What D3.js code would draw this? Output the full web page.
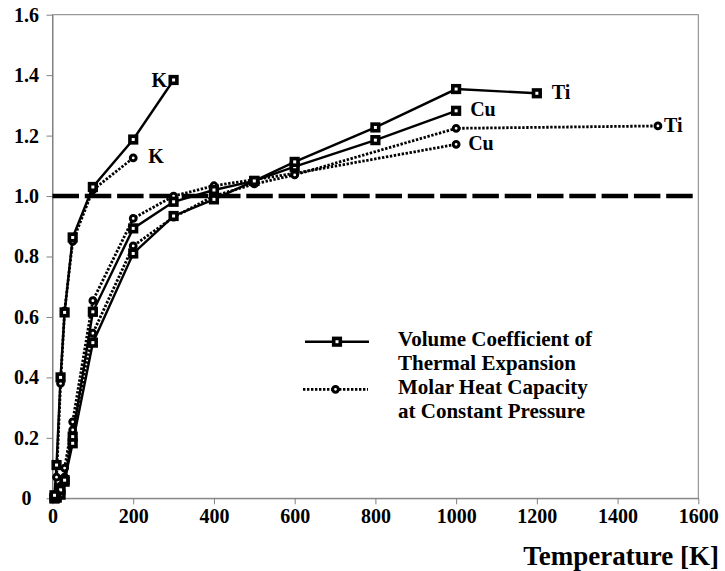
<!DOCTYPE html>
<html>
<head>
<meta charset="utf-8">
<script src="https://cdn.jsdelivr.net/npm/d3@7/dist/d3.min.js"></script>
<style>
  html, body { margin: 0; padding: 0; background: #fff; }
  svg { display: block; }
  text { font-family: "Liberation Serif", "Times New Roman", serif; font-weight: bold; fill: #000; }
</style>
</head>
<body>
<svg id="chart" width="725" height="571"></svg>
<script>
// ---------------- DATA ----------------
const xTicks = [0, 200, 400, 600, 800, 1000, 1200, 1400, 1600];
const yTicks = [0, 0.2, 0.4, 0.6, 0.8, 1.0, 1.2, 1.4, 1.6];
const referenceValue = 1.0;

const kExpT   = [5, 10, 20, 30, 50, 100, 200, 300];
const kExpV   = [0.01, 0.11, 0.40, 0.615, 0.863, 1.03, 1.187, 1.384];
const kCpT    = [5, 10, 20, 30, 50, 100, 200];
const kCpV    = [0.005, 0.07, 0.38, 0.62, 0.85, 1.02, 1.126];

const cuExpT  = [5, 10, 20, 30, 50, 100, 200, 300, 400, 500, 600, 800, 1000];
const cuExpV  = [0.0, 0.003, 0.012, 0.055, 0.204, 0.617, 0.893, 0.981, 1.02, 1.05, 1.097, 1.185, 1.282];
const tiExpT  = [5, 10, 20, 30, 50, 100, 200, 300, 400, 500, 600, 800, 1000, 1200];
const tiExpV  = [0.0, 0.003, 0.028, 0.06, 0.182, 0.515, 0.81, 0.934, 0.989, 1.05, 1.113, 1.227, 1.354, 1.34];

const cuCpT   = [5, 10, 20, 30, 50, 100, 200, 300, 400, 600, 1000];
const cuCpV   = [0.0, 0.005, 0.04, 0.10, 0.253, 0.654, 0.926, 1.0, 1.034, 1.075, 1.171];
const tiCpT   = [5, 10, 20, 30, 50, 100, 200, 300, 400, 500, 600, 1000, 1500];
const tiCpV   = [0.0, 0.003, 0.02, 0.07, 0.226, 0.546, 0.835, 0.93, 1.0, 1.04, 1.07, 1.224, 1.232];

const seriesNames = ["K", "K", "Cu", "Ti", "Cu", "Ti"];
const legendLabels = [["Volume Coefficient of", "Thermal Expansion"], ["Molar Heat Capacity", "at Constant Pressure"]];
const xTitle = "Temperature [K]";

// ---------------- BUILD ----------------
const zip = (t, v) => t.map((d, i) => ({ x: d, y: v[i] }));
const series = [
  { name: seriesNames[0], kind: "exp", pts: zip(kExpT, kExpV),  dx: -22, dy: 7 },
  { name: seriesNames[1], kind: "cp",  pts: zip(kCpT, kCpV),    dx: 15,  dy: 5.5 },
  { name: seriesNames[2], kind: "exp", pts: zip(cuExpT, cuExpV), dx: 14, dy: 5.5 },
  { name: seriesNames[3], kind: "exp", pts: zip(tiExpT, tiExpV), dx: 15, dy: 5.5 },
  { name: seriesNames[4], kind: "cp",  pts: zip(cuCpT, cuCpV),  dx: 12,  dy: 6 },
  { name: seriesNames[5], kind: "cp",  pts: zip(tiCpT, tiCpV),  dx: 6,   dy: 6 }
];

const svg = d3.select("#chart");
const plotL = 52.5, plotR = 698.3, plotT = 14.7, plotB = 498.3;
const x = d3.scaleLinear().domain([0, 1600]).range([plotL, plotR]);
const y = d3.scaleLinear().domain([0, 1.6]).range([plotB, plotT]);
const axisColor = "#808080";
const serif = "'Liberation Serif', 'Times New Roman', serif";

// frame
svg.append("rect")
  .attr("x", plotL).attr("y", plotT)
  .attr("width", plotR - plotL).attr("height", plotB - plotT)
  .attr("fill", "none").attr("stroke", axisColor).attr("stroke-width", 1);

// axes
const yAxis = svg.append("g")
  .attr("transform", `translate(${plotL},0)`)
  .call(d3.axisLeft(y).tickValues(yTicks).tickSize(6).tickSizeOuter(0)
        .tickFormat(d => d === 0 ? "0" : d3.format(".1f")(d)));
yAxis.attr("font-family", serif).attr("font-size", 20).attr("font-weight", "bold");
yAxis.select(".domain").attr("stroke", axisColor);
yAxis.selectAll(".tick line").attr("stroke", axisColor);
yAxis.selectAll(".tick text")
  .attr("x", -26).attr("text-anchor", "middle")
  .style("font-size", "20px").style("font-family", serif).style("font-weight", "bold").attr("fill", "#000");

const xAxis = svg.append("g")
  .attr("transform", `translate(0,${plotB})`)
  .call(d3.axisBottom(x).tickValues(xTicks).tickSize(6).tickSizeOuter(0).tickPadding(4.5)
        .tickFormat(d3.format("d")));
xAxis.attr("font-family", serif).attr("font-size", 20).attr("font-weight", "bold");
xAxis.select(".domain").attr("stroke", axisColor);
xAxis.selectAll(".tick line").attr("stroke", axisColor);
xAxis.selectAll(".tick text")
  .style("font-size", "20px").style("font-family", serif).style("font-weight", "bold").attr("fill", "#000");

// reference dashed line
svg.append("line")
  .attr("x1", x(0)).attr("x2", x(1600))
  .attr("y1", y(referenceValue)).attr("y2", y(referenceValue))
  .attr("stroke", "#000").attr("stroke-width", 4.5)
  .attr("stroke-dasharray", "26.5,5.8");

// series
const line = d3.line().x(d => x(d.x)).y(d => y(d.y));
const styleFor = k => k === "exp"
  ? { dash: null, w: 2.4 }
  : { dash: "2.4,1.6", w: 2.8 };

function drawMarker(g, kind, cx, cy) {
  if (kind === "exp") {
    g.append("rect")
      .attr("x", cx - 3.3).attr("y", cy - 3.3)
      .attr("width", 6.6).attr("height", 6.6)
      .attr("fill", "#fff").attr("stroke", "#000").attr("stroke-width", 3.6);
  } else {
    g.append("circle")
      .attr("cx", cx).attr("cy", cy).attr("r", 2.9)
      .attr("fill", "#fff").attr("stroke", "#000").attr("stroke-width", 3);
  }
}

const order = [4, 5, 1, 2, 3, 0];
order.forEach(i => {
  const s = series[i];
  const st = styleFor(s.kind);
  svg.append("path").datum(s.pts)
    .attr("d", line).attr("fill", "none")
    .attr("stroke", "#000").attr("stroke-width", st.w)
    .attr("stroke-dasharray", st.dash);
});
order.forEach(i => {
  const s = series[i];
  const g = svg.append("g");
  s.pts.forEach(p => drawMarker(g, s.kind, x(p.x), y(p.y)));
  const last = s.pts[s.pts.length - 1];
  svg.append("text")
    .attr("x", x(last.x) + s.dx).attr("y", y(last.y) + s.dy)
    .style("font-size", "20px").style("font-family", serif).style("font-weight", "bold")
    .text(s.name);
});

// legend
const legend = svg.append("g");
const legendRows = [
  { kind: "exp", y: 341.7, x1: 305, x2: 369, tx: 398, ty: 345.7 },
  { kind: "cp",  y: 389.3, x1: 303, x2: 368, tx: 398, ty: 394 }
];
legendRows.forEach((r, i) => {
  const st = styleFor(r.kind);
  legend.append("line")
    .attr("x1", r.x1).attr("x2", r.x2).attr("y1", r.y).attr("y2", r.y)
    .attr("stroke", "#000").attr("stroke-width", st.w)
    .attr("stroke-dasharray", st.dash);
  drawMarker(legend, r.kind, (r.x1 + r.x2) / 2, r.y);
  legendLabels[i].forEach((t, j) => {
    legend.append("text")
      .attr("x", r.tx).attr("y", r.ty + j * 24.3)
      .style("font-size", "21px").style("font-family", serif).style("font-weight", "bold")
      .text(t);
  });
});

// axis title
svg.append("text")
  .attr("x", 719).attr("y", 564.5)
  .attr("text-anchor", "end")
  .style("font-size", "27px").style("font-family", serif).style("font-weight", "bold")
  .text(xTitle);
</script>
</body>
</html>
